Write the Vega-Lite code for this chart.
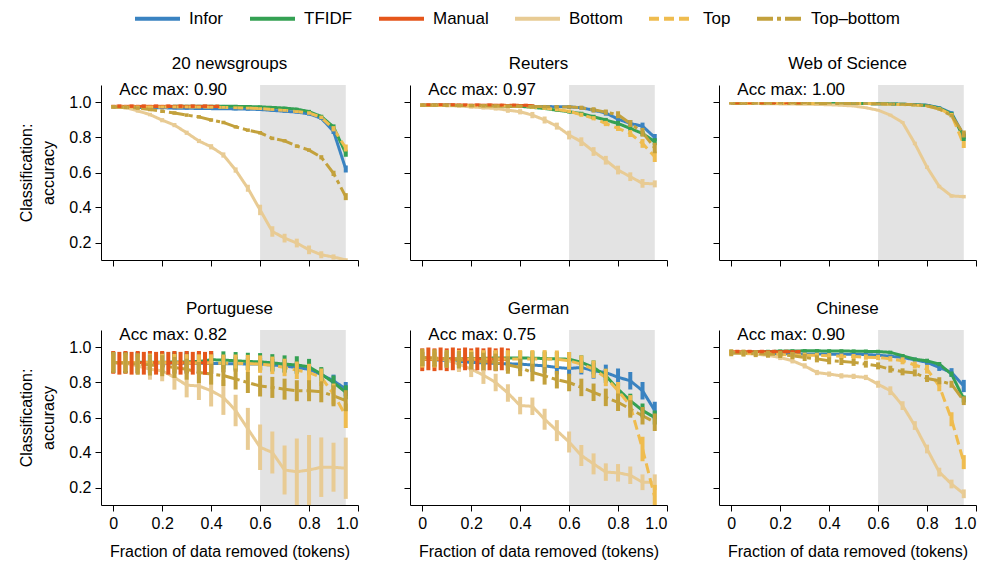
{
"$schema":"https://vega.github.io/schema/vega-lite/v6.json",
"padding":{"left":18,"top":-6,"right":0,"bottom":5},
"datasets":{
"info":[{"d":"ng","label":"Acc max: 0.90"},{"d":"re","label":"Acc max: 0.97"},{"d":"ws","label":"Acc max: 1.00"},{"d":"pt","label":"Acc max: 0.82"},{"d":"de","label":"Acc max: 0.75"},{"d":"zh","label":"Acc max: 0.90"}],
"pts":[
{"d":"ng","m":"Infor","x":0,"y":0.975,"e":0.008},{"d":"ng","m":"Infor","x":0.05,"y":0.973,"e":0.008},{"d":"ng","m":"Infor","x":0.1,"y":0.972,"e":0.008},{"d":"ng","m":"Infor","x":0.15,"y":0.97,"e":0.008},{"d":"ng","m":"Infor","x":0.2,"y":0.97,"e":0.008},{"d":"ng","m":"Infor","x":0.25,"y":0.968,"e":0.008},{"d":"ng","m":"Infor","x":0.3,"y":0.967,"e":0.008},{"d":"ng","m":"Infor","x":0.35,"y":0.966,"e":0.008},{"d":"ng","m":"Infor","x":0.4,"y":0.965,"e":0.008},{"d":"ng","m":"Infor","x":0.45,"y":0.965,"e":0.008},{"d":"ng","m":"Infor","x":0.5,"y":0.963,"e":0.008},{"d":"ng","m":"Infor","x":0.55,"y":0.962,"e":0.008},{"d":"ng","m":"Infor","x":0.6,"y":0.96,"e":0.008},{"d":"ng","m":"Infor","x":0.65,"y":0.955,"e":0.008},{"d":"ng","m":"Infor","x":0.7,"y":0.95,"e":0.008},{"d":"ng","m":"Infor","x":0.75,"y":0.945,"e":0.008},{"d":"ng","m":"Infor","x":0.8,"y":0.935,"e":0.01},{"d":"ng","m":"Infor","x":0.85,"y":0.91,"e":0.01},{"d":"ng","m":"Infor","x":0.9,"y":0.835,"e":0.015},{"d":"ng","m":"Infor","x":0.95,"y":0.62,"e":0.02},
{"d":"ng","m":"TFIDF","x":0,"y":0.975,"e":0.008},{"d":"ng","m":"TFIDF","x":0.05,"y":0.976,"e":0.008},{"d":"ng","m":"TFIDF","x":0.1,"y":0.976,"e":0.008},{"d":"ng","m":"TFIDF","x":0.15,"y":0.977,"e":0.008},{"d":"ng","m":"TFIDF","x":0.2,"y":0.977,"e":0.008},{"d":"ng","m":"TFIDF","x":0.25,"y":0.978,"e":0.008},{"d":"ng","m":"TFIDF","x":0.3,"y":0.978,"e":0.008},{"d":"ng","m":"TFIDF","x":0.35,"y":0.978,"e":0.008},{"d":"ng","m":"TFIDF","x":0.4,"y":0.978,"e":0.008},{"d":"ng","m":"TFIDF","x":0.45,"y":0.978,"e":0.008},{"d":"ng","m":"TFIDF","x":0.5,"y":0.978,"e":0.008},{"d":"ng","m":"TFIDF","x":0.55,"y":0.977,"e":0.008},{"d":"ng","m":"TFIDF","x":0.6,"y":0.975,"e":0.008},{"d":"ng","m":"TFIDF","x":0.65,"y":0.972,"e":0.008},{"d":"ng","m":"TFIDF","x":0.7,"y":0.968,"e":0.008},{"d":"ng","m":"TFIDF","x":0.75,"y":0.962,"e":0.008},{"d":"ng","m":"TFIDF","x":0.8,"y":0.948,"e":0.01},{"d":"ng","m":"TFIDF","x":0.85,"y":0.92,"e":0.01},{"d":"ng","m":"TFIDF","x":0.9,"y":0.86,"e":0.015},{"d":"ng","m":"TFIDF","x":0.95,"y":0.71,"e":0.02},
{"d":"ng","m":"Manual","x":0,"y":0.977,"e":0.01},{"d":"ng","m":"Manual","x":0.025,"y":0.979,"e":0.01},{"d":"ng","m":"Manual","x":0.05,"y":0.977,"e":0.01},{"d":"ng","m":"Manual","x":0.075,"y":0.979,"e":0.01},{"d":"ng","m":"Manual","x":0.1,"y":0.977,"e":0.01},{"d":"ng","m":"Manual","x":0.125,"y":0.979,"e":0.01},{"d":"ng","m":"Manual","x":0.15,"y":0.977,"e":0.01},{"d":"ng","m":"Manual","x":0.175,"y":0.979,"e":0.01},{"d":"ng","m":"Manual","x":0.2,"y":0.977,"e":0.01},{"d":"ng","m":"Manual","x":0.225,"y":0.979,"e":0.01},{"d":"ng","m":"Manual","x":0.25,"y":0.977,"e":0.01},{"d":"ng","m":"Manual","x":0.275,"y":0.979,"e":0.01},{"d":"ng","m":"Manual","x":0.3,"y":0.977,"e":0.01},{"d":"ng","m":"Manual","x":0.325,"y":0.979,"e":0.01},{"d":"ng","m":"Manual","x":0.35,"y":0.977,"e":0.01},{"d":"ng","m":"Manual","x":0.375,"y":0.979,"e":0.01},{"d":"ng","m":"Manual","x":0.4,"y":0.977,"e":0.01},{"d":"ng","m":"Manual","x":0.425,"y":0.978,"e":0.01},
{"d":"ng","m":"Bottom","x":0,"y":0.975,"e":0.008},{"d":"ng","m":"Bottom","x":0.05,"y":0.971,"e":0.01},{"d":"ng","m":"Bottom","x":0.1,"y":0.952,"e":0.01},{"d":"ng","m":"Bottom","x":0.15,"y":0.931,"e":0.01},{"d":"ng","m":"Bottom","x":0.2,"y":0.899,"e":0.012},{"d":"ng","m":"Bottom","x":0.25,"y":0.871,"e":0.012},{"d":"ng","m":"Bottom","x":0.3,"y":0.827,"e":0.012},{"d":"ng","m":"Bottom","x":0.35,"y":0.78,"e":0.012},{"d":"ng","m":"Bottom","x":0.4,"y":0.747,"e":0.015},{"d":"ng","m":"Bottom","x":0.45,"y":0.7,"e":0.015},{"d":"ng","m":"Bottom","x":0.5,"y":0.614,"e":0.015},{"d":"ng","m":"Bottom","x":0.55,"y":0.51,"e":0.02},{"d":"ng","m":"Bottom","x":0.6,"y":0.386,"e":0.03},{"d":"ng","m":"Bottom","x":0.65,"y":0.263,"e":0.03},{"d":"ng","m":"Bottom","x":0.7,"y":0.225,"e":0.025},{"d":"ng","m":"Bottom","x":0.75,"y":0.197,"e":0.025},{"d":"ng","m":"Bottom","x":0.8,"y":0.158,"e":0.025},{"d":"ng","m":"Bottom","x":0.85,"y":0.13,"e":0.02},{"d":"ng","m":"Bottom","x":0.9,"y":0.117,"e":0.015},{"d":"ng","m":"Bottom","x":0.95,"y":0.1,"e":0.01},
{"d":"ng","m":"Top","x":0,"y":0.975,"e":0.008},{"d":"ng","m":"Top","x":0.05,"y":0.975,"e":0.008},{"d":"ng","m":"Top","x":0.1,"y":0.975,"e":0.008},{"d":"ng","m":"Top","x":0.15,"y":0.975,"e":0.008},{"d":"ng","m":"Top","x":0.2,"y":0.975,"e":0.008},{"d":"ng","m":"Top","x":0.25,"y":0.975,"e":0.008},{"d":"ng","m":"Top","x":0.3,"y":0.975,"e":0.008},{"d":"ng","m":"Top","x":0.35,"y":0.974,"e":0.008},{"d":"ng","m":"Top","x":0.4,"y":0.973,"e":0.008},{"d":"ng","m":"Top","x":0.45,"y":0.972,"e":0.008},{"d":"ng","m":"Top","x":0.5,"y":0.97,"e":0.008},{"d":"ng","m":"Top","x":0.55,"y":0.968,"e":0.008},{"d":"ng","m":"Top","x":0.6,"y":0.965,"e":0.008},{"d":"ng","m":"Top","x":0.65,"y":0.96,"e":0.008},{"d":"ng","m":"Top","x":0.7,"y":0.955,"e":0.008},{"d":"ng","m":"Top","x":0.75,"y":0.948,"e":0.008},{"d":"ng","m":"Top","x":0.8,"y":0.94,"e":0.01},{"d":"ng","m":"Top","x":0.85,"y":0.915,"e":0.01},{"d":"ng","m":"Top","x":0.9,"y":0.85,"e":0.015},{"d":"ng","m":"Top","x":0.95,"y":0.74,"e":0.02},
{"d":"ng","m":"Top–bottom","x":0,"y":0.975,"e":0.01},{"d":"ng","m":"Top–bottom","x":0.05,"y":0.972,"e":0.01},{"d":"ng","m":"Top–bottom","x":0.1,"y":0.968,"e":0.01},{"d":"ng","m":"Top–bottom","x":0.15,"y":0.96,"e":0.01},{"d":"ng","m":"Top–bottom","x":0.2,"y":0.95,"e":0.01},{"d":"ng","m":"Top–bottom","x":0.25,"y":0.94,"e":0.01},{"d":"ng","m":"Top–bottom","x":0.3,"y":0.928,"e":0.01},{"d":"ng","m":"Top–bottom","x":0.35,"y":0.918,"e":0.01},{"d":"ng","m":"Top–bottom","x":0.4,"y":0.9,"e":0.01},{"d":"ng","m":"Top–bottom","x":0.45,"y":0.886,"e":0.01},{"d":"ng","m":"Top–bottom","x":0.5,"y":0.861,"e":0.01},{"d":"ng","m":"Top–bottom","x":0.55,"y":0.842,"e":0.01},{"d":"ng","m":"Top–bottom","x":0.6,"y":0.827,"e":0.01},{"d":"ng","m":"Top–bottom","x":0.65,"y":0.795,"e":0.01},{"d":"ng","m":"Top–bottom","x":0.7,"y":0.781,"e":0.01},{"d":"ng","m":"Top–bottom","x":0.75,"y":0.751,"e":0.01},{"d":"ng","m":"Top–bottom","x":0.8,"y":0.728,"e":0.01},{"d":"ng","m":"Top–bottom","x":0.85,"y":0.687,"e":0.012},{"d":"ng","m":"Top–bottom","x":0.9,"y":0.595,"e":0.015},{"d":"ng","m":"Top–bottom","x":0.95,"y":0.462,"e":0.02},

{"d":"re","m":"Infor","x":0,"y":0.985,"e":0.008},{"d":"re","m":"Infor","x":0.05,"y":0.985,"e":0.008},{"d":"re","m":"Infor","x":0.1,"y":0.984,"e":0.008},{"d":"re","m":"Infor","x":0.15,"y":0.983,"e":0.008},{"d":"re","m":"Infor","x":0.2,"y":0.982,"e":0.008},{"d":"re","m":"Infor","x":0.25,"y":0.981,"e":0.008},{"d":"re","m":"Infor","x":0.3,"y":0.98,"e":0.008},{"d":"re","m":"Infor","x":0.35,"y":0.98,"e":0.008},{"d":"re","m":"Infor","x":0.4,"y":0.979,"e":0.008},{"d":"re","m":"Infor","x":0.45,"y":0.978,"e":0.008},{"d":"re","m":"Infor","x":0.5,"y":0.977,"e":0.008},{"d":"re","m":"Infor","x":0.55,"y":0.976,"e":0.008},{"d":"re","m":"Infor","x":0.6,"y":0.975,"e":0.01},{"d":"re","m":"Infor","x":0.65,"y":0.97,"e":0.01},{"d":"re","m":"Infor","x":0.7,"y":0.956,"e":0.012},{"d":"re","m":"Infor","x":0.75,"y":0.94,"e":0.015},{"d":"re","m":"Infor","x":0.8,"y":0.905,"e":0.02},{"d":"re","m":"Infor","x":0.85,"y":0.88,"e":0.02},{"d":"re","m":"Infor","x":0.9,"y":0.865,"e":0.02},{"d":"re","m":"Infor","x":0.95,"y":0.8,"e":0.02},
{"d":"re","m":"TFIDF","x":0,"y":0.985,"e":0.008},{"d":"re","m":"TFIDF","x":0.05,"y":0.985,"e":0.008},{"d":"re","m":"TFIDF","x":0.1,"y":0.984,"e":0.008},{"d":"re","m":"TFIDF","x":0.15,"y":0.983,"e":0.008},{"d":"re","m":"TFIDF","x":0.2,"y":0.982,"e":0.008},{"d":"re","m":"TFIDF","x":0.25,"y":0.981,"e":0.008},{"d":"re","m":"TFIDF","x":0.3,"y":0.98,"e":0.008},{"d":"re","m":"TFIDF","x":0.35,"y":0.979,"e":0.008},{"d":"re","m":"TFIDF","x":0.4,"y":0.978,"e":0.008},{"d":"re","m":"TFIDF","x":0.45,"y":0.972,"e":0.008},{"d":"re","m":"TFIDF","x":0.5,"y":0.966,"e":0.008},{"d":"re","m":"TFIDF","x":0.55,"y":0.956,"e":0.008},{"d":"re","m":"TFIDF","x":0.6,"y":0.947,"e":0.01},{"d":"re","m":"TFIDF","x":0.65,"y":0.937,"e":0.01},{"d":"re","m":"TFIDF","x":0.7,"y":0.918,"e":0.012},{"d":"re","m":"TFIDF","x":0.75,"y":0.9,"e":0.012},{"d":"re","m":"TFIDF","x":0.8,"y":0.88,"e":0.015},{"d":"re","m":"TFIDF","x":0.85,"y":0.852,"e":0.015},{"d":"re","m":"TFIDF","x":0.9,"y":0.823,"e":0.015},{"d":"re","m":"TFIDF","x":0.95,"y":0.776,"e":0.02},
{"d":"re","m":"Manual","x":0,"y":0.985,"e":0.008},{"d":"re","m":"Manual","x":0.025,"y":0.987,"e":0.008},{"d":"re","m":"Manual","x":0.05,"y":0.985,"e":0.008},{"d":"re","m":"Manual","x":0.075,"y":0.987,"e":0.008},{"d":"re","m":"Manual","x":0.1,"y":0.985,"e":0.008},{"d":"re","m":"Manual","x":0.125,"y":0.987,"e":0.008},{"d":"re","m":"Manual","x":0.15,"y":0.985,"e":0.008},{"d":"re","m":"Manual","x":0.175,"y":0.986,"e":0.008},{"d":"re","m":"Manual","x":0.2,"y":0.984,"e":0.008},{"d":"re","m":"Manual","x":0.225,"y":0.986,"e":0.008},{"d":"re","m":"Manual","x":0.25,"y":0.984,"e":0.008},{"d":"re","m":"Manual","x":0.275,"y":0.986,"e":0.008},{"d":"re","m":"Manual","x":0.3,"y":0.984,"e":0.008},{"d":"re","m":"Manual","x":0.325,"y":0.985,"e":0.008},{"d":"re","m":"Manual","x":0.35,"y":0.983,"e":0.008},{"d":"re","m":"Manual","x":0.375,"y":0.985,"e":0.008},{"d":"re","m":"Manual","x":0.4,"y":0.983,"e":0.008},{"d":"re","m":"Manual","x":0.425,"y":0.984,"e":0.008},{"d":"re","m":"Manual","x":0.45,"y":0.982,"e":0.008},
{"d":"re","m":"Bottom","x":0,"y":0.985,"e":0.008},{"d":"re","m":"Bottom","x":0.05,"y":0.984,"e":0.008},{"d":"re","m":"Bottom","x":0.1,"y":0.982,"e":0.008},{"d":"re","m":"Bottom","x":0.15,"y":0.98,"e":0.008},{"d":"re","m":"Bottom","x":0.2,"y":0.975,"e":0.01},{"d":"re","m":"Bottom","x":0.25,"y":0.97,"e":0.01},{"d":"re","m":"Bottom","x":0.3,"y":0.966,"e":0.012},{"d":"re","m":"Bottom","x":0.35,"y":0.956,"e":0.015},{"d":"re","m":"Bottom","x":0.4,"y":0.947,"e":0.015},{"d":"re","m":"Bottom","x":0.45,"y":0.928,"e":0.018},{"d":"re","m":"Bottom","x":0.5,"y":0.9,"e":0.02},{"d":"re","m":"Bottom","x":0.55,"y":0.865,"e":0.02},{"d":"re","m":"Bottom","x":0.6,"y":0.814,"e":0.025},{"d":"re","m":"Bottom","x":0.65,"y":0.776,"e":0.025},{"d":"re","m":"Bottom","x":0.7,"y":0.72,"e":0.025},{"d":"re","m":"Bottom","x":0.75,"y":0.67,"e":0.025},{"d":"re","m":"Bottom","x":0.8,"y":0.614,"e":0.025},{"d":"re","m":"Bottom","x":0.85,"y":0.576,"e":0.025},{"d":"re","m":"Bottom","x":0.9,"y":0.538,"e":0.025},{"d":"re","m":"Bottom","x":0.95,"y":0.535,"e":0.02},
{"d":"re","m":"Top","x":0,"y":0.985,"e":0.008},{"d":"re","m":"Top","x":0.05,"y":0.985,"e":0.008},{"d":"re","m":"Top","x":0.1,"y":0.984,"e":0.008},{"d":"re","m":"Top","x":0.15,"y":0.983,"e":0.008},{"d":"re","m":"Top","x":0.2,"y":0.982,"e":0.008},{"d":"re","m":"Top","x":0.25,"y":0.981,"e":0.008},{"d":"re","m":"Top","x":0.3,"y":0.98,"e":0.008},{"d":"re","m":"Top","x":0.35,"y":0.979,"e":0.008},{"d":"re","m":"Top","x":0.4,"y":0.978,"e":0.008},{"d":"re","m":"Top","x":0.45,"y":0.974,"e":0.01},{"d":"re","m":"Top","x":0.5,"y":0.968,"e":0.01},{"d":"re","m":"Top","x":0.55,"y":0.96,"e":0.01},{"d":"re","m":"Top","x":0.6,"y":0.95,"e":0.01},{"d":"re","m":"Top","x":0.65,"y":0.93,"e":0.012},{"d":"re","m":"Top","x":0.7,"y":0.91,"e":0.012},{"d":"re","m":"Top","x":0.75,"y":0.88,"e":0.015},{"d":"re","m":"Top","x":0.8,"y":0.852,"e":0.015},{"d":"re","m":"Top","x":0.85,"y":0.823,"e":0.02},{"d":"re","m":"Top","x":0.9,"y":0.766,"e":0.025},{"d":"re","m":"Top","x":0.95,"y":0.69,"e":0.03},
{"d":"re","m":"Top–bottom","x":0,"y":0.985,"e":0.01},{"d":"re","m":"Top–bottom","x":0.05,"y":0.985,"e":0.01},{"d":"re","m":"Top–bottom","x":0.1,"y":0.984,"e":0.01},{"d":"re","m":"Top–bottom","x":0.15,"y":0.983,"e":0.01},{"d":"re","m":"Top–bottom","x":0.2,"y":0.982,"e":0.01},{"d":"re","m":"Top–bottom","x":0.25,"y":0.981,"e":0.01},{"d":"re","m":"Top–bottom","x":0.3,"y":0.98,"e":0.01},{"d":"re","m":"Top–bottom","x":0.35,"y":0.979,"e":0.01},{"d":"re","m":"Top–bottom","x":0.4,"y":0.978,"e":0.01},{"d":"re","m":"Top–bottom","x":0.45,"y":0.977,"e":0.01},{"d":"re","m":"Top–bottom","x":0.5,"y":0.976,"e":0.01},{"d":"re","m":"Top–bottom","x":0.55,"y":0.975,"e":0.01},{"d":"re","m":"Top–bottom","x":0.6,"y":0.975,"e":0.01},{"d":"re","m":"Top–bottom","x":0.65,"y":0.97,"e":0.012},{"d":"re","m":"Top–bottom","x":0.7,"y":0.958,"e":0.015},{"d":"re","m":"Top–bottom","x":0.75,"y":0.945,"e":0.015},{"d":"re","m":"Top–bottom","x":0.8,"y":0.93,"e":0.02},{"d":"re","m":"Top–bottom","x":0.85,"y":0.88,"e":0.02},{"d":"re","m":"Top–bottom","x":0.9,"y":0.83,"e":0.025},{"d":"re","m":"Top–bottom","x":0.95,"y":0.74,"e":0.03},

{"d":"ws","m":"Infor","x":0,"y":0.995,"e":0.005},{"d":"ws","m":"Infor","x":0.05,"y":0.995,"e":0.005},{"d":"ws","m":"Infor","x":0.1,"y":0.995,"e":0.005},{"d":"ws","m":"Infor","x":0.15,"y":0.995,"e":0.005},{"d":"ws","m":"Infor","x":0.2,"y":0.995,"e":0.005},{"d":"ws","m":"Infor","x":0.25,"y":0.995,"e":0.005},{"d":"ws","m":"Infor","x":0.3,"y":0.995,"e":0.005},{"d":"ws","m":"Infor","x":0.35,"y":0.995,"e":0.005},{"d":"ws","m":"Infor","x":0.4,"y":0.995,"e":0.005},{"d":"ws","m":"Infor","x":0.45,"y":0.995,"e":0.005},{"d":"ws","m":"Infor","x":0.5,"y":0.995,"e":0.005},{"d":"ws","m":"Infor","x":0.55,"y":0.994,"e":0.005},{"d":"ws","m":"Infor","x":0.6,"y":0.993,"e":0.005},{"d":"ws","m":"Infor","x":0.65,"y":0.992,"e":0.005},{"d":"ws","m":"Infor","x":0.7,"y":0.99,"e":0.005},{"d":"ws","m":"Infor","x":0.75,"y":0.988,"e":0.005},{"d":"ws","m":"Infor","x":0.8,"y":0.985,"e":0.006},{"d":"ws","m":"Infor","x":0.85,"y":0.97,"e":0.008},{"d":"ws","m":"Infor","x":0.9,"y":0.94,"e":0.01},{"d":"ws","m":"Infor","x":0.95,"y":0.81,"e":0.02},
{"d":"ws","m":"TFIDF","x":0,"y":0.995,"e":0.005},{"d":"ws","m":"TFIDF","x":0.05,"y":0.995,"e":0.005},{"d":"ws","m":"TFIDF","x":0.1,"y":0.995,"e":0.005},{"d":"ws","m":"TFIDF","x":0.15,"y":0.995,"e":0.005},{"d":"ws","m":"TFIDF","x":0.2,"y":0.995,"e":0.005},{"d":"ws","m":"TFIDF","x":0.25,"y":0.995,"e":0.005},{"d":"ws","m":"TFIDF","x":0.3,"y":0.995,"e":0.005},{"d":"ws","m":"TFIDF","x":0.35,"y":0.995,"e":0.005},{"d":"ws","m":"TFIDF","x":0.4,"y":0.995,"e":0.005},{"d":"ws","m":"TFIDF","x":0.45,"y":0.995,"e":0.005},{"d":"ws","m":"TFIDF","x":0.5,"y":0.995,"e":0.005},{"d":"ws","m":"TFIDF","x":0.55,"y":0.994,"e":0.005},{"d":"ws","m":"TFIDF","x":0.6,"y":0.993,"e":0.005},{"d":"ws","m":"TFIDF","x":0.65,"y":0.992,"e":0.005},{"d":"ws","m":"TFIDF","x":0.7,"y":0.99,"e":0.005},{"d":"ws","m":"TFIDF","x":0.75,"y":0.987,"e":0.005},{"d":"ws","m":"TFIDF","x":0.8,"y":0.983,"e":0.006},{"d":"ws","m":"TFIDF","x":0.85,"y":0.968,"e":0.008},{"d":"ws","m":"TFIDF","x":0.9,"y":0.935,"e":0.01},{"d":"ws","m":"TFIDF","x":0.95,"y":0.8,"e":0.02},
{"d":"ws","m":"Manual","x":0,"y":0.995,"e":0.005},{"d":"ws","m":"Manual","x":0.025,"y":0.995,"e":0.005},{"d":"ws","m":"Manual","x":0.05,"y":0.995,"e":0.005},{"d":"ws","m":"Manual","x":0.075,"y":0.995,"e":0.005},{"d":"ws","m":"Manual","x":0.1,"y":0.995,"e":0.005},{"d":"ws","m":"Manual","x":0.125,"y":0.995,"e":0.005},{"d":"ws","m":"Manual","x":0.15,"y":0.995,"e":0.005},{"d":"ws","m":"Manual","x":0.175,"y":0.995,"e":0.005},{"d":"ws","m":"Manual","x":0.2,"y":0.995,"e":0.005},{"d":"ws","m":"Manual","x":0.225,"y":0.995,"e":0.005},{"d":"ws","m":"Manual","x":0.25,"y":0.995,"e":0.005},{"d":"ws","m":"Manual","x":0.275,"y":0.995,"e":0.005},{"d":"ws","m":"Manual","x":0.3,"y":0.995,"e":0.005},
{"d":"ws","m":"Bottom","x":0,"y":0.995,"e":0.005},{"d":"ws","m":"Bottom","x":0.05,"y":0.995,"e":0.005},{"d":"ws","m":"Bottom","x":0.1,"y":0.994,"e":0.005},{"d":"ws","m":"Bottom","x":0.15,"y":0.993,"e":0.005},{"d":"ws","m":"Bottom","x":0.2,"y":0.992,"e":0.005},{"d":"ws","m":"Bottom","x":0.25,"y":0.991,"e":0.005},{"d":"ws","m":"Bottom","x":0.3,"y":0.99,"e":0.005},{"d":"ws","m":"Bottom","x":0.35,"y":0.989,"e":0.005},{"d":"ws","m":"Bottom","x":0.4,"y":0.987,"e":0.005},{"d":"ws","m":"Bottom","x":0.45,"y":0.984,"e":0.005},{"d":"ws","m":"Bottom","x":0.5,"y":0.98,"e":0.005},{"d":"ws","m":"Bottom","x":0.55,"y":0.97,"e":0.006},{"d":"ws","m":"Bottom","x":0.6,"y":0.956,"e":0.006},{"d":"ws","m":"Bottom","x":0.65,"y":0.928,"e":0.008},{"d":"ws","m":"Bottom","x":0.7,"y":0.886,"e":0.008},{"d":"ws","m":"Bottom","x":0.75,"y":0.766,"e":0.01},{"d":"ws","m":"Bottom","x":0.8,"y":0.63,"e":0.01},{"d":"ws","m":"Bottom","x":0.85,"y":0.52,"e":0.01},{"d":"ws","m":"Bottom","x":0.9,"y":0.466,"e":0.01},{"d":"ws","m":"Bottom","x":0.95,"y":0.462,"e":0.01},
{"d":"ws","m":"Top","x":0,"y":0.995,"e":0.005},{"d":"ws","m":"Top","x":0.05,"y":0.995,"e":0.005},{"d":"ws","m":"Top","x":0.1,"y":0.995,"e":0.005},{"d":"ws","m":"Top","x":0.15,"y":0.995,"e":0.005},{"d":"ws","m":"Top","x":0.2,"y":0.995,"e":0.005},{"d":"ws","m":"Top","x":0.25,"y":0.995,"e":0.005},{"d":"ws","m":"Top","x":0.3,"y":0.995,"e":0.005},{"d":"ws","m":"Top","x":0.35,"y":0.995,"e":0.005},{"d":"ws","m":"Top","x":0.4,"y":0.995,"e":0.005},{"d":"ws","m":"Top","x":0.45,"y":0.995,"e":0.005},{"d":"ws","m":"Top","x":0.5,"y":0.995,"e":0.005},{"d":"ws","m":"Top","x":0.55,"y":0.994,"e":0.005},{"d":"ws","m":"Top","x":0.6,"y":0.992,"e":0.005},{"d":"ws","m":"Top","x":0.65,"y":0.99,"e":0.005},{"d":"ws","m":"Top","x":0.7,"y":0.988,"e":0.005},{"d":"ws","m":"Top","x":0.75,"y":0.985,"e":0.005},{"d":"ws","m":"Top","x":0.8,"y":0.98,"e":0.006},{"d":"ws","m":"Top","x":0.85,"y":0.965,"e":0.008},{"d":"ws","m":"Top","x":0.9,"y":0.93,"e":0.01},{"d":"ws","m":"Top","x":0.95,"y":0.76,"e":0.02},
{"d":"ws","m":"Top–bottom","x":0,"y":0.995,"e":0.005},{"d":"ws","m":"Top–bottom","x":0.05,"y":0.995,"e":0.005},{"d":"ws","m":"Top–bottom","x":0.1,"y":0.995,"e":0.005},{"d":"ws","m":"Top–bottom","x":0.15,"y":0.995,"e":0.005},{"d":"ws","m":"Top–bottom","x":0.2,"y":0.995,"e":0.005},{"d":"ws","m":"Top–bottom","x":0.25,"y":0.995,"e":0.005},{"d":"ws","m":"Top–bottom","x":0.3,"y":0.995,"e":0.005},{"d":"ws","m":"Top–bottom","x":0.35,"y":0.995,"e":0.005},{"d":"ws","m":"Top–bottom","x":0.4,"y":0.995,"e":0.005},{"d":"ws","m":"Top–bottom","x":0.45,"y":0.995,"e":0.005},{"d":"ws","m":"Top–bottom","x":0.5,"y":0.995,"e":0.005},{"d":"ws","m":"Top–bottom","x":0.55,"y":0.994,"e":0.005},{"d":"ws","m":"Top–bottom","x":0.6,"y":0.993,"e":0.005},{"d":"ws","m":"Top–bottom","x":0.65,"y":0.991,"e":0.005},{"d":"ws","m":"Top–bottom","x":0.7,"y":0.99,"e":0.005},{"d":"ws","m":"Top–bottom","x":0.75,"y":0.987,"e":0.005},{"d":"ws","m":"Top–bottom","x":0.8,"y":0.982,"e":0.006},{"d":"ws","m":"Top–bottom","x":0.85,"y":0.962,"e":0.008},{"d":"ws","m":"Top–bottom","x":0.9,"y":0.925,"e":0.01},{"d":"ws","m":"Top–bottom","x":0.95,"y":0.82,"e":0.02},

{"d":"pt","m":"Infor","x":0,"y":0.915,"e":0.06},{"d":"pt","m":"Infor","x":0.05,"y":0.915,"e":0.06},{"d":"pt","m":"Infor","x":0.1,"y":0.914,"e":0.06},{"d":"pt","m":"Infor","x":0.15,"y":0.913,"e":0.06},{"d":"pt","m":"Infor","x":0.2,"y":0.912,"e":0.06},{"d":"pt","m":"Infor","x":0.25,"y":0.911,"e":0.06},{"d":"pt","m":"Infor","x":0.3,"y":0.91,"e":0.06},{"d":"pt","m":"Infor","x":0.35,"y":0.91,"e":0.06},{"d":"pt","m":"Infor","x":0.4,"y":0.909,"e":0.06},{"d":"pt","m":"Infor","x":0.45,"y":0.908,"e":0.05},{"d":"pt","m":"Infor","x":0.5,"y":0.907,"e":0.04},{"d":"pt","m":"Infor","x":0.55,"y":0.906,"e":0.035},{"d":"pt","m":"Infor","x":0.6,"y":0.905,"e":0.035},{"d":"pt","m":"Infor","x":0.65,"y":0.9,"e":0.035},{"d":"pt","m":"Infor","x":0.7,"y":0.895,"e":0.035},{"d":"pt","m":"Infor","x":0.75,"y":0.885,"e":0.035},{"d":"pt","m":"Infor","x":0.8,"y":0.876,"e":0.035},{"d":"pt","m":"Infor","x":0.85,"y":0.845,"e":0.035},{"d":"pt","m":"Infor","x":0.9,"y":0.81,"e":0.035},{"d":"pt","m":"Infor","x":0.95,"y":0.763,"e":0.04},
{"d":"pt","m":"TFIDF","x":0,"y":0.915,"e":0.06},{"d":"pt","m":"TFIDF","x":0.05,"y":0.915,"e":0.06},{"d":"pt","m":"TFIDF","x":0.1,"y":0.915,"e":0.06},{"d":"pt","m":"TFIDF","x":0.15,"y":0.916,"e":0.06},{"d":"pt","m":"TFIDF","x":0.2,"y":0.916,"e":0.06},{"d":"pt","m":"TFIDF","x":0.25,"y":0.917,"e":0.06},{"d":"pt","m":"TFIDF","x":0.3,"y":0.918,"e":0.06},{"d":"pt","m":"TFIDF","x":0.35,"y":0.92,"e":0.055},{"d":"pt","m":"TFIDF","x":0.4,"y":0.93,"e":0.05},{"d":"pt","m":"TFIDF","x":0.45,"y":0.928,"e":0.05},{"d":"pt","m":"TFIDF","x":0.5,"y":0.924,"e":0.05},{"d":"pt","m":"TFIDF","x":0.55,"y":0.92,"e":0.05},{"d":"pt","m":"TFIDF","x":0.6,"y":0.918,"e":0.05},{"d":"pt","m":"TFIDF","x":0.65,"y":0.912,"e":0.05},{"d":"pt","m":"TFIDF","x":0.7,"y":0.905,"e":0.05},{"d":"pt","m":"TFIDF","x":0.75,"y":0.9,"e":0.05},{"d":"pt","m":"TFIDF","x":0.8,"y":0.89,"e":0.045},{"d":"pt","m":"TFIDF","x":0.85,"y":0.848,"e":0.04},{"d":"pt","m":"TFIDF","x":0.9,"y":0.8,"e":0.04},{"d":"pt","m":"TFIDF","x":0.95,"y":0.744,"e":0.04},
{"d":"pt","m":"Manual","x":0,"y":0.915,"e":0.065},{"d":"pt","m":"Manual","x":0.025,"y":0.91,"e":0.065},{"d":"pt","m":"Manual","x":0.05,"y":0.915,"e":0.065},{"d":"pt","m":"Manual","x":0.075,"y":0.91,"e":0.065},{"d":"pt","m":"Manual","x":0.1,"y":0.915,"e":0.065},{"d":"pt","m":"Manual","x":0.125,"y":0.91,"e":0.065},{"d":"pt","m":"Manual","x":0.15,"y":0.915,"e":0.065},{"d":"pt","m":"Manual","x":0.175,"y":0.91,"e":0.065},{"d":"pt","m":"Manual","x":0.2,"y":0.915,"e":0.065},{"d":"pt","m":"Manual","x":0.225,"y":0.91,"e":0.065},{"d":"pt","m":"Manual","x":0.25,"y":0.915,"e":0.065},{"d":"pt","m":"Manual","x":0.275,"y":0.91,"e":0.065},{"d":"pt","m":"Manual","x":0.3,"y":0.915,"e":0.065},{"d":"pt","m":"Manual","x":0.325,"y":0.91,"e":0.065},{"d":"pt","m":"Manual","x":0.35,"y":0.915,"e":0.065},{"d":"pt","m":"Manual","x":0.375,"y":0.91,"e":0.065},{"d":"pt","m":"Manual","x":0.4,"y":0.915,"e":0.065},
{"d":"pt","m":"Bottom","x":0,"y":0.915,"e":0.04},{"d":"pt","m":"Bottom","x":0.05,"y":0.91,"e":0.045},{"d":"pt","m":"Bottom","x":0.1,"y":0.895,"e":0.05},{"d":"pt","m":"Bottom","x":0.15,"y":0.876,"e":0.06},{"d":"pt","m":"Bottom","x":0.2,"y":0.867,"e":0.06},{"d":"pt","m":"Bottom","x":0.25,"y":0.829,"e":0.07},{"d":"pt","m":"Bottom","x":0.3,"y":0.785,"e":0.07},{"d":"pt","m":"Bottom","x":0.35,"y":0.78,"e":0.08},{"d":"pt","m":"Bottom","x":0.4,"y":0.753,"e":0.09},{"d":"pt","m":"Bottom","x":0.45,"y":0.715,"e":0.1},{"d":"pt","m":"Bottom","x":0.5,"y":0.64,"e":0.09},{"d":"pt","m":"Bottom","x":0.55,"y":0.535,"e":0.12},{"d":"pt","m":"Bottom","x":0.6,"y":0.43,"e":0.13},{"d":"pt","m":"Bottom","x":0.65,"y":0.4,"e":0.12},{"d":"pt","m":"Bottom","x":0.7,"y":0.3,"e":0.14},{"d":"pt","m":"Bottom","x":0.75,"y":0.29,"e":0.19},{"d":"pt","m":"Bottom","x":0.8,"y":0.3,"e":0.2},{"d":"pt","m":"Bottom","x":0.85,"y":0.316,"e":0.17},{"d":"pt","m":"Bottom","x":0.9,"y":0.316,"e":0.14},{"d":"pt","m":"Bottom","x":0.95,"y":0.31,"e":0.175},
{"d":"pt","m":"Top","x":0,"y":0.915,"e":0.05},{"d":"pt","m":"Top","x":0.05,"y":0.915,"e":0.05},{"d":"pt","m":"Top","x":0.1,"y":0.915,"e":0.05},{"d":"pt","m":"Top","x":0.15,"y":0.915,"e":0.05},{"d":"pt","m":"Top","x":0.2,"y":0.914,"e":0.05},{"d":"pt","m":"Top","x":0.25,"y":0.913,"e":0.05},{"d":"pt","m":"Top","x":0.3,"y":0.912,"e":0.05},{"d":"pt","m":"Top","x":0.35,"y":0.911,"e":0.05},{"d":"pt","m":"Top","x":0.4,"y":0.911,"e":0.05},{"d":"pt","m":"Top","x":0.45,"y":0.91,"e":0.05},{"d":"pt","m":"Top","x":0.5,"y":0.91,"e":0.05},{"d":"pt","m":"Top","x":0.55,"y":0.908,"e":0.05},{"d":"pt","m":"Top","x":0.6,"y":0.905,"e":0.05},{"d":"pt","m":"Top","x":0.65,"y":0.898,"e":0.05},{"d":"pt","m":"Top","x":0.7,"y":0.886,"e":0.05},{"d":"pt","m":"Top","x":0.75,"y":0.87,"e":0.05},{"d":"pt","m":"Top","x":0.8,"y":0.857,"e":0.05},{"d":"pt","m":"Top","x":0.85,"y":0.83,"e":0.05},{"d":"pt","m":"Top","x":0.9,"y":0.734,"e":0.06},{"d":"pt","m":"Top","x":0.95,"y":0.61,"e":0.07},
{"d":"pt","m":"Top–bottom","x":0,"y":0.915,"e":0.06},{"d":"pt","m":"Top–bottom","x":0.05,"y":0.912,"e":0.06},{"d":"pt","m":"Top–bottom","x":0.1,"y":0.905,"e":0.06},{"d":"pt","m":"Top–bottom","x":0.15,"y":0.9,"e":0.06},{"d":"pt","m":"Top–bottom","x":0.2,"y":0.896,"e":0.06},{"d":"pt","m":"Top–bottom","x":0.25,"y":0.886,"e":0.06},{"d":"pt","m":"Top–bottom","x":0.3,"y":0.876,"e":0.06},{"d":"pt","m":"Top–bottom","x":0.35,"y":0.857,"e":0.06},{"d":"pt","m":"Top–bottom","x":0.4,"y":0.848,"e":0.06},{"d":"pt","m":"Top–bottom","x":0.45,"y":0.84,"e":0.06},{"d":"pt","m":"Top–bottom","x":0.5,"y":0.82,"e":0.06},{"d":"pt","m":"Top–bottom","x":0.55,"y":0.8,"e":0.06},{"d":"pt","m":"Top–bottom","x":0.6,"y":0.78,"e":0.06},{"d":"pt","m":"Top–bottom","x":0.65,"y":0.772,"e":0.06},{"d":"pt","m":"Top–bottom","x":0.7,"y":0.762,"e":0.06},{"d":"pt","m":"Top–bottom","x":0.75,"y":0.753,"e":0.06},{"d":"pt","m":"Top–bottom","x":0.8,"y":0.753,"e":0.06},{"d":"pt","m":"Top–bottom","x":0.85,"y":0.747,"e":0.06},{"d":"pt","m":"Top–bottom","x":0.9,"y":0.724,"e":0.06},{"d":"pt","m":"Top–bottom","x":0.95,"y":0.696,"e":0.06},

{"d":"de","m":"Infor","x":0,"y":0.933,"e":0.04},{"d":"de","m":"Infor","x":0.05,"y":0.93,"e":0.04},{"d":"de","m":"Infor","x":0.1,"y":0.925,"e":0.04},{"d":"de","m":"Infor","x":0.15,"y":0.92,"e":0.04},{"d":"de","m":"Infor","x":0.2,"y":0.915,"e":0.04},{"d":"de","m":"Infor","x":0.25,"y":0.912,"e":0.04},{"d":"de","m":"Infor","x":0.3,"y":0.909,"e":0.04},{"d":"de","m":"Infor","x":0.35,"y":0.907,"e":0.04},{"d":"de","m":"Infor","x":0.4,"y":0.905,"e":0.04},{"d":"de","m":"Infor","x":0.45,"y":0.9,"e":0.04},{"d":"de","m":"Infor","x":0.5,"y":0.895,"e":0.04},{"d":"de","m":"Infor","x":0.55,"y":0.886,"e":0.04},{"d":"de","m":"Infor","x":0.6,"y":0.88,"e":0.04},{"d":"de","m":"Infor","x":0.65,"y":0.886,"e":0.04},{"d":"de","m":"Infor","x":0.7,"y":0.867,"e":0.045},{"d":"de","m":"Infor","x":0.75,"y":0.857,"e":0.045},{"d":"de","m":"Infor","x":0.8,"y":0.83,"e":0.05},{"d":"de","m":"Infor","x":0.85,"y":0.81,"e":0.05},{"d":"de","m":"Infor","x":0.9,"y":0.753,"e":0.05},{"d":"de","m":"Infor","x":0.95,"y":0.64,"e":0.05},
{"d":"de","m":"TFIDF","x":0,"y":0.935,"e":0.04},{"d":"de","m":"TFIDF","x":0.05,"y":0.935,"e":0.04},{"d":"de","m":"TFIDF","x":0.1,"y":0.935,"e":0.04},{"d":"de","m":"TFIDF","x":0.15,"y":0.936,"e":0.04},{"d":"de","m":"TFIDF","x":0.2,"y":0.937,"e":0.04},{"d":"de","m":"TFIDF","x":0.25,"y":0.938,"e":0.04},{"d":"de","m":"TFIDF","x":0.3,"y":0.94,"e":0.04},{"d":"de","m":"TFIDF","x":0.35,"y":0.94,"e":0.04},{"d":"de","m":"TFIDF","x":0.4,"y":0.94,"e":0.04},{"d":"de","m":"TFIDF","x":0.45,"y":0.939,"e":0.04},{"d":"de","m":"TFIDF","x":0.5,"y":0.937,"e":0.04},{"d":"de","m":"TFIDF","x":0.55,"y":0.935,"e":0.04},{"d":"de","m":"TFIDF","x":0.6,"y":0.933,"e":0.04},{"d":"de","m":"TFIDF","x":0.65,"y":0.915,"e":0.04},{"d":"de","m":"TFIDF","x":0.7,"y":0.886,"e":0.04},{"d":"de","m":"TFIDF","x":0.75,"y":0.838,"e":0.04},{"d":"de","m":"TFIDF","x":0.8,"y":0.762,"e":0.04},{"d":"de","m":"TFIDF","x":0.85,"y":0.696,"e":0.04},{"d":"de","m":"TFIDF","x":0.9,"y":0.64,"e":0.04},{"d":"de","m":"TFIDF","x":0.95,"y":0.6,"e":0.04},
{"d":"de","m":"Manual","x":0,"y":0.93,"e":0.065},{"d":"de","m":"Manual","x":0.025,"y":0.935,"e":0.065},{"d":"de","m":"Manual","x":0.05,"y":0.93,"e":0.065},{"d":"de","m":"Manual","x":0.075,"y":0.935,"e":0.065},{"d":"de","m":"Manual","x":0.1,"y":0.93,"e":0.065},{"d":"de","m":"Manual","x":0.125,"y":0.935,"e":0.065},{"d":"de","m":"Manual","x":0.15,"y":0.93,"e":0.065},{"d":"de","m":"Manual","x":0.175,"y":0.935,"e":0.065},{"d":"de","m":"Manual","x":0.2,"y":0.93,"e":0.065},{"d":"de","m":"Manual","x":0.225,"y":0.935,"e":0.065},{"d":"de","m":"Manual","x":0.25,"y":0.93,"e":0.065},{"d":"de","m":"Manual","x":0.275,"y":0.935,"e":0.065},{"d":"de","m":"Manual","x":0.3,"y":0.93,"e":0.065},{"d":"de","m":"Manual","x":0.325,"y":0.935,"e":0.065},{"d":"de","m":"Manual","x":0.35,"y":0.93,"e":0.065},
{"d":"de","m":"Bottom","x":0,"y":0.943,"e":0.04},{"d":"de","m":"Bottom","x":0.05,"y":0.94,"e":0.04},{"d":"de","m":"Bottom","x":0.1,"y":0.93,"e":0.04},{"d":"de","m":"Bottom","x":0.15,"y":0.905,"e":0.045},{"d":"de","m":"Bottom","x":0.2,"y":0.876,"e":0.045},{"d":"de","m":"Bottom","x":0.25,"y":0.842,"e":0.05},{"d":"de","m":"Bottom","x":0.3,"y":0.8,"e":0.05},{"d":"de","m":"Bottom","x":0.35,"y":0.74,"e":0.05},{"d":"de","m":"Bottom","x":0.4,"y":0.668,"e":0.05},{"d":"de","m":"Bottom","x":0.45,"y":0.664,"e":0.05},{"d":"de","m":"Bottom","x":0.5,"y":0.59,"e":0.06},{"d":"de","m":"Bottom","x":0.55,"y":0.525,"e":0.06},{"d":"de","m":"Bottom","x":0.6,"y":0.46,"e":0.06},{"d":"de","m":"Bottom","x":0.65,"y":0.383,"e":0.06},{"d":"de","m":"Bottom","x":0.7,"y":0.335,"e":0.06},{"d":"de","m":"Bottom","x":0.75,"y":0.288,"e":0.05},{"d":"de","m":"Bottom","x":0.8,"y":0.284,"e":0.05},{"d":"de","m":"Bottom","x":0.85,"y":0.27,"e":0.05},{"d":"de","m":"Bottom","x":0.9,"y":0.23,"e":0.045},{"d":"de","m":"Bottom","x":0.95,"y":0.23,"e":0.045},
{"d":"de","m":"Top","x":0,"y":0.935,"e":0.05},{"d":"de","m":"Top","x":0.05,"y":0.935,"e":0.05},{"d":"de","m":"Top","x":0.1,"y":0.935,"e":0.05},{"d":"de","m":"Top","x":0.15,"y":0.935,"e":0.05},{"d":"de","m":"Top","x":0.2,"y":0.935,"e":0.05},{"d":"de","m":"Top","x":0.25,"y":0.935,"e":0.05},{"d":"de","m":"Top","x":0.3,"y":0.935,"e":0.05},{"d":"de","m":"Top","x":0.35,"y":0.935,"e":0.05},{"d":"de","m":"Top","x":0.4,"y":0.935,"e":0.05},{"d":"de","m":"Top","x":0.45,"y":0.935,"e":0.05},{"d":"de","m":"Top","x":0.5,"y":0.935,"e":0.05},{"d":"de","m":"Top","x":0.55,"y":0.933,"e":0.05},{"d":"de","m":"Top","x":0.6,"y":0.924,"e":0.05},{"d":"de","m":"Top","x":0.65,"y":0.905,"e":0.05},{"d":"de","m":"Top","x":0.7,"y":0.876,"e":0.05},{"d":"de","m":"Top","x":0.75,"y":0.829,"e":0.05},{"d":"de","m":"Top","x":0.8,"y":0.753,"e":0.05},{"d":"de","m":"Top","x":0.85,"y":0.668,"e":0.06},{"d":"de","m":"Top","x":0.9,"y":0.42,"e":0.07},{"d":"de","m":"Top","x":0.95,"y":0.145,"e":0.07},
{"d":"de","m":"Top–bottom","x":0,"y":0.943,"e":0.05},{"d":"de","m":"Top–bottom","x":0.05,"y":0.94,"e":0.05},{"d":"de","m":"Top–bottom","x":0.1,"y":0.935,"e":0.05},{"d":"de","m":"Top–bottom","x":0.15,"y":0.93,"e":0.05},{"d":"de","m":"Top–bottom","x":0.2,"y":0.924,"e":0.05},{"d":"de","m":"Top–bottom","x":0.25,"y":0.92,"e":0.05},{"d":"de","m":"Top–bottom","x":0.3,"y":0.915,"e":0.05},{"d":"de","m":"Top–bottom","x":0.35,"y":0.9,"e":0.05},{"d":"de","m":"Top–bottom","x":0.4,"y":0.886,"e":0.05},{"d":"de","m":"Top–bottom","x":0.45,"y":0.857,"e":0.05},{"d":"de","m":"Top–bottom","x":0.5,"y":0.838,"e":0.05},{"d":"de","m":"Top–bottom","x":0.55,"y":0.816,"e":0.05},{"d":"de","m":"Top–bottom","x":0.6,"y":0.8,"e":0.05},{"d":"de","m":"Top–bottom","x":0.65,"y":0.772,"e":0.05},{"d":"de","m":"Top–bottom","x":0.7,"y":0.744,"e":0.05},{"d":"de","m":"Top–bottom","x":0.75,"y":0.715,"e":0.05},{"d":"de","m":"Top–bottom","x":0.8,"y":0.687,"e":0.05},{"d":"de","m":"Top–bottom","x":0.85,"y":0.649,"e":0.05},{"d":"de","m":"Top–bottom","x":0.9,"y":0.61,"e":0.05},{"d":"de","m":"Top–bottom","x":0.95,"y":0.573,"e":0.05},

{"d":"zh","m":"Infor","x":0,"y":0.97,"e":0.01},{"d":"zh","m":"Infor","x":0.05,"y":0.968,"e":0.01},{"d":"zh","m":"Infor","x":0.1,"y":0.967,"e":0.01},{"d":"zh","m":"Infor","x":0.15,"y":0.966,"e":0.01},{"d":"zh","m":"Infor","x":0.2,"y":0.965,"e":0.01},{"d":"zh","m":"Infor","x":0.25,"y":0.964,"e":0.01},{"d":"zh","m":"Infor","x":0.3,"y":0.963,"e":0.01},{"d":"zh","m":"Infor","x":0.35,"y":0.963,"e":0.01},{"d":"zh","m":"Infor","x":0.4,"y":0.962,"e":0.01},{"d":"zh","m":"Infor","x":0.45,"y":0.962,"e":0.01},{"d":"zh","m":"Infor","x":0.5,"y":0.962,"e":0.01},{"d":"zh","m":"Infor","x":0.55,"y":0.96,"e":0.01},{"d":"zh","m":"Infor","x":0.6,"y":0.956,"e":0.01},{"d":"zh","m":"Infor","x":0.65,"y":0.95,"e":0.01},{"d":"zh","m":"Infor","x":0.7,"y":0.943,"e":0.012},{"d":"zh","m":"Infor","x":0.75,"y":0.93,"e":0.012},{"d":"zh","m":"Infor","x":0.8,"y":0.915,"e":0.015},{"d":"zh","m":"Infor","x":0.85,"y":0.886,"e":0.02},{"d":"zh","m":"Infor","x":0.9,"y":0.857,"e":0.025},{"d":"zh","m":"Infor","x":0.95,"y":0.78,"e":0.035},
{"d":"zh","m":"TFIDF","x":0,"y":0.97,"e":0.01},{"d":"zh","m":"TFIDF","x":0.05,"y":0.972,"e":0.01},{"d":"zh","m":"TFIDF","x":0.1,"y":0.975,"e":0.01},{"d":"zh","m":"TFIDF","x":0.15,"y":0.977,"e":0.01},{"d":"zh","m":"TFIDF","x":0.2,"y":0.979,"e":0.01},{"d":"zh","m":"TFIDF","x":0.25,"y":0.98,"e":0.01},{"d":"zh","m":"TFIDF","x":0.3,"y":0.981,"e":0.01},{"d":"zh","m":"TFIDF","x":0.35,"y":0.981,"e":0.01},{"d":"zh","m":"TFIDF","x":0.4,"y":0.98,"e":0.01},{"d":"zh","m":"TFIDF","x":0.45,"y":0.98,"e":0.01},{"d":"zh","m":"TFIDF","x":0.5,"y":0.979,"e":0.01},{"d":"zh","m":"TFIDF","x":0.55,"y":0.978,"e":0.01},{"d":"zh","m":"TFIDF","x":0.6,"y":0.977,"e":0.01},{"d":"zh","m":"TFIDF","x":0.65,"y":0.972,"e":0.01},{"d":"zh","m":"TFIDF","x":0.7,"y":0.953,"e":0.01},{"d":"zh","m":"TFIDF","x":0.75,"y":0.933,"e":0.01},{"d":"zh","m":"TFIDF","x":0.8,"y":0.924,"e":0.012},{"d":"zh","m":"TFIDF","x":0.85,"y":0.905,"e":0.012},{"d":"zh","m":"TFIDF","x":0.9,"y":0.848,"e":0.015},{"d":"zh","m":"TFIDF","x":0.95,"y":0.706,"e":0.02},
{"d":"zh","m":"Manual","x":0,"y":0.975,"e":0.01},{"d":"zh","m":"Manual","x":0.025,"y":0.977,"e":0.01},{"d":"zh","m":"Manual","x":0.05,"y":0.975,"e":0.01},{"d":"zh","m":"Manual","x":0.075,"y":0.977,"e":0.01},{"d":"zh","m":"Manual","x":0.1,"y":0.975,"e":0.01},{"d":"zh","m":"Manual","x":0.125,"y":0.977,"e":0.01},{"d":"zh","m":"Manual","x":0.15,"y":0.975,"e":0.01},{"d":"zh","m":"Manual","x":0.175,"y":0.977,"e":0.01},{"d":"zh","m":"Manual","x":0.2,"y":0.975,"e":0.01},{"d":"zh","m":"Manual","x":0.225,"y":0.977,"e":0.01},{"d":"zh","m":"Manual","x":0.25,"y":0.975,"e":0.01},{"d":"zh","m":"Manual","x":0.275,"y":0.976,"e":0.01},
{"d":"zh","m":"Bottom","x":0,"y":0.97,"e":0.012},{"d":"zh","m":"Bottom","x":0.05,"y":0.966,"e":0.012},{"d":"zh","m":"Bottom","x":0.1,"y":0.962,"e":0.012},{"d":"zh","m":"Bottom","x":0.15,"y":0.955,"e":0.012},{"d":"zh","m":"Bottom","x":0.2,"y":0.943,"e":0.015},{"d":"zh","m":"Bottom","x":0.25,"y":0.924,"e":0.015},{"d":"zh","m":"Bottom","x":0.3,"y":0.895,"e":0.015},{"d":"zh","m":"Bottom","x":0.35,"y":0.857,"e":0.015},{"d":"zh","m":"Bottom","x":0.4,"y":0.848,"e":0.015},{"d":"zh","m":"Bottom","x":0.45,"y":0.838,"e":0.015},{"d":"zh","m":"Bottom","x":0.5,"y":0.835,"e":0.015},{"d":"zh","m":"Bottom","x":0.55,"y":0.829,"e":0.015},{"d":"zh","m":"Bottom","x":0.6,"y":0.79,"e":0.02},{"d":"zh","m":"Bottom","x":0.65,"y":0.753,"e":0.025},{"d":"zh","m":"Bottom","x":0.7,"y":0.668,"e":0.025},{"d":"zh","m":"Bottom","x":0.75,"y":0.554,"e":0.025},{"d":"zh","m":"Bottom","x":0.8,"y":0.42,"e":0.025},{"d":"zh","m":"Bottom","x":0.85,"y":0.288,"e":0.025},{"d":"zh","m":"Bottom","x":0.9,"y":0.22,"e":0.025},{"d":"zh","m":"Bottom","x":0.95,"y":0.164,"e":0.025},
{"d":"zh","m":"Top","x":0,"y":0.97,"e":0.015},{"d":"zh","m":"Top","x":0.05,"y":0.968,"e":0.015},{"d":"zh","m":"Top","x":0.1,"y":0.966,"e":0.015},{"d":"zh","m":"Top","x":0.15,"y":0.963,"e":0.015},{"d":"zh","m":"Top","x":0.2,"y":0.96,"e":0.015},{"d":"zh","m":"Top","x":0.25,"y":0.958,"e":0.015},{"d":"zh","m":"Top","x":0.3,"y":0.956,"e":0.015},{"d":"zh","m":"Top","x":0.35,"y":0.955,"e":0.015},{"d":"zh","m":"Top","x":0.4,"y":0.953,"e":0.015},{"d":"zh","m":"Top","x":0.45,"y":0.95,"e":0.015},{"d":"zh","m":"Top","x":0.5,"y":0.948,"e":0.015},{"d":"zh","m":"Top","x":0.55,"y":0.945,"e":0.015},{"d":"zh","m":"Top","x":0.6,"y":0.943,"e":0.015},{"d":"zh","m":"Top","x":0.65,"y":0.935,"e":0.015},{"d":"zh","m":"Top","x":0.7,"y":0.924,"e":0.02},{"d":"zh","m":"Top","x":0.75,"y":0.9,"e":0.02},{"d":"zh","m":"Top","x":0.8,"y":0.876,"e":0.025},{"d":"zh","m":"Top","x":0.85,"y":0.78,"e":0.03},{"d":"zh","m":"Top","x":0.9,"y":0.59,"e":0.04},{"d":"zh","m":"Top","x":0.95,"y":0.345,"e":0.04},
{"d":"zh","m":"Top–bottom","x":0,"y":0.97,"e":0.02},{"d":"zh","m":"Top–bottom","x":0.05,"y":0.968,"e":0.02},{"d":"zh","m":"Top–bottom","x":0.1,"y":0.965,"e":0.02},{"d":"zh","m":"Top–bottom","x":0.15,"y":0.962,"e":0.02},{"d":"zh","m":"Top–bottom","x":0.2,"y":0.96,"e":0.02},{"d":"zh","m":"Top–bottom","x":0.25,"y":0.953,"e":0.02},{"d":"zh","m":"Top–bottom","x":0.3,"y":0.943,"e":0.02},{"d":"zh","m":"Top–bottom","x":0.35,"y":0.935,"e":0.02},{"d":"zh","m":"Top–bottom","x":0.4,"y":0.924,"e":0.02},{"d":"zh","m":"Top–bottom","x":0.45,"y":0.92,"e":0.02},{"d":"zh","m":"Top–bottom","x":0.5,"y":0.915,"e":0.02},{"d":"zh","m":"Top–bottom","x":0.55,"y":0.905,"e":0.02},{"d":"zh","m":"Top–bottom","x":0.6,"y":0.895,"e":0.02},{"d":"zh","m":"Top–bottom","x":0.65,"y":0.876,"e":0.02},{"d":"zh","m":"Top–bottom","x":0.7,"y":0.861,"e":0.02},{"d":"zh","m":"Top–bottom","x":0.75,"y":0.855,"e":0.02},{"d":"zh","m":"Top–bottom","x":0.8,"y":0.823,"e":0.02},{"d":"zh","m":"Top–bottom","x":0.85,"y":0.81,"e":0.02},{"d":"zh","m":"Top–bottom","x":0.9,"y":0.79,"e":0.02},{"d":"zh","m":"Top–bottom","x":0.95,"y":0.696,"e":0.025}
]},
"columns":3,
"spacing":{"row":70,"column":52},
"bounds":"flush",
"resolve":{"scale":{"color":"shared","strokeDash":"shared"}},
"concat":[
{"title":"20 newsgroups","width":257,"height":175,"layer":[
 {"data":{"name":"info"},"transform":[{"filter":"datum.d==='ng'"}],"mark":{"type":"rect","color":"#e3e3e3"},"encoding":{"x":{"datum":0.6,"type":"quantitative","scale":{"domain":[-0.05,1],"nice":false,"zero":false},"axis":{"values":[0,0.2,0.4,0.6,0.8,1],"labels":false,"title":null}},"x2":{"datum":0.95},"y":{"datum":0.1,"type":"quantitative","scale":{"domain":[0.1,1.1],"nice":false,"zero":false},"axis":{"values":[0.2,0.4,0.6,0.8,1],"format":".1f"}},"y2":{"datum":1.1}}},
 {"data":{"name":"pts"},"transform":[{"filter":"datum.d==='ng'"}],"mark":{"type":"line","strokeWidth":3,"clip":true},"encoding":{"x":{"field":"x","type":"quantitative"},"y":{"field":"y","type":"quantitative"},"color":{"field":"m","type":"nominal","title":null,"scale":{"domain":["Infor","TFIDF","Manual","Bottom","Top","Top–bottom"],"range":["#3a83c1","#34a153","#e5561b","#e8cb94","#efbc4f","#c3a13c"]}},"strokeDash":{"field":"m","type":"nominal","title":null,"scale":{"domain":["Infor","TFIDF","Manual","Bottom","Top","Top–bottom"],"range":[[1,0],[1,0],[1,0],[1,0],[10,5],[16,4,4,4]]}},"order":{"field":"x"}}},
 {"data":{"name":"pts"},"transform":[{"filter":"datum.d==='ng'"}],"mark":{"type":"errorbar","thickness":4,"clip":true},"encoding":{"x":{"field":"x","type":"quantitative","title":null},"y":{"field":"y","type":"quantitative","title":["Classification:","accuracy"]},"yError":{"field":"e"},"color":{"field":"m","type":"nominal","title":null}}},
 {"data":{"name":"info"},"transform":[{"filter":"datum.d==='ng'"}],"mark":{"type":"text","align":"left","baseline":"middle","fontSize":17},"encoding":{"x":{"datum":0.025,"type":"quantitative"},"y":{"datum":1.07,"type":"quantitative"},"text":{"field":"label"}}}
]},
{"title":"Reuters","width":257,"height":175,"layer":[
 {"data":{"name":"info"},"transform":[{"filter":"datum.d==='re'"}],"mark":{"type":"rect","color":"#e3e3e3"},"encoding":{"x":{"datum":0.6,"type":"quantitative","scale":{"domain":[-0.05,1],"nice":false,"zero":false},"axis":{"values":[0,0.2,0.4,0.6,0.8,1],"labels":false,"title":null}},"x2":{"datum":0.95},"y":{"datum":0.1,"type":"quantitative","scale":{"domain":[0.1,1.1],"nice":false,"zero":false},"axis":{"values":[0.2,0.4,0.6,0.8,1],"labels":false,"title":null}},"y2":{"datum":1.1}}},
 {"data":{"name":"pts"},"transform":[{"filter":"datum.d==='re'"}],"mark":{"type":"line","strokeWidth":3,"clip":true},"encoding":{"x":{"field":"x","type":"quantitative"},"y":{"field":"y","type":"quantitative"},"color":{"field":"m","type":"nominal","title":null,"scale":{"domain":["Infor","TFIDF","Manual","Bottom","Top","Top–bottom"],"range":["#3a83c1","#34a153","#e5561b","#e8cb94","#efbc4f","#c3a13c"]}},"strokeDash":{"field":"m","type":"nominal","title":null,"scale":{"domain":["Infor","TFIDF","Manual","Bottom","Top","Top–bottom"],"range":[[1,0],[1,0],[1,0],[1,0],[10,5],[16,4,4,4]]}},"order":{"field":"x"}}},
 {"data":{"name":"pts"},"transform":[{"filter":"datum.d==='re'"}],"mark":{"type":"errorbar","thickness":4,"clip":true},"encoding":{"x":{"field":"x","type":"quantitative","title":null},"y":{"field":"y","type":"quantitative","title":null},"yError":{"field":"e"},"color":{"field":"m","type":"nominal","title":null}}},
 {"data":{"name":"info"},"transform":[{"filter":"datum.d==='re'"}],"mark":{"type":"text","align":"left","baseline":"middle","fontSize":17},"encoding":{"x":{"datum":0.025,"type":"quantitative"},"y":{"datum":1.07,"type":"quantitative"},"text":{"field":"label"}}}
]},
{"title":"Web of Science","width":257,"height":175,"layer":[
 {"data":{"name":"info"},"transform":[{"filter":"datum.d==='ws'"}],"mark":{"type":"rect","color":"#e3e3e3"},"encoding":{"x":{"datum":0.6,"type":"quantitative","scale":{"domain":[-0.05,1],"nice":false,"zero":false},"axis":{"values":[0,0.2,0.4,0.6,0.8,1],"labels":false,"title":null}},"x2":{"datum":0.95},"y":{"datum":0.1,"type":"quantitative","scale":{"domain":[0.1,1.1],"nice":false,"zero":false},"axis":{"values":[0.2,0.4,0.6,0.8,1],"labels":false,"title":null}},"y2":{"datum":1.1}}},
 {"data":{"name":"pts"},"transform":[{"filter":"datum.d==='ws'"}],"mark":{"type":"line","strokeWidth":3,"clip":true},"encoding":{"x":{"field":"x","type":"quantitative"},"y":{"field":"y","type":"quantitative"},"color":{"field":"m","type":"nominal","title":null,"scale":{"domain":["Infor","TFIDF","Manual","Bottom","Top","Top–bottom"],"range":["#3a83c1","#34a153","#e5561b","#e8cb94","#efbc4f","#c3a13c"]}},"strokeDash":{"field":"m","type":"nominal","title":null,"scale":{"domain":["Infor","TFIDF","Manual","Bottom","Top","Top–bottom"],"range":[[1,0],[1,0],[1,0],[1,0],[10,5],[16,4,4,4]]}},"order":{"field":"x"}}},
 {"data":{"name":"pts"},"transform":[{"filter":"datum.d==='ws'"}],"mark":{"type":"errorbar","thickness":4,"clip":true},"encoding":{"x":{"field":"x","type":"quantitative","title":null},"y":{"field":"y","type":"quantitative","title":null},"yError":{"field":"e"},"color":{"field":"m","type":"nominal","title":null}}},
 {"data":{"name":"info"},"transform":[{"filter":"datum.d==='ws'"}],"mark":{"type":"text","align":"left","baseline":"middle","fontSize":17},"encoding":{"x":{"datum":0.025,"type":"quantitative"},"y":{"datum":1.07,"type":"quantitative"},"text":{"field":"label"}}}
]},
{"title":"Portuguese","width":257,"height":175,"layer":[
 {"data":{"name":"info"},"transform":[{"filter":"datum.d==='pt'"}],"mark":{"type":"rect","color":"#e3e3e3"},"encoding":{"x":{"datum":0.6,"type":"quantitative","scale":{"domain":[-0.05,1],"nice":false,"zero":false},"axis":{"values":[0,0.2,0.4,0.6,0.8,1],"labelExpr":"datum.value === 0 ? '0' : format(datum.value, '.1f')","title":"Fraction of data removed (tokens)"}},"x2":{"datum":0.95},"y":{"datum":0.1,"type":"quantitative","scale":{"domain":[0.1,1.1],"nice":false,"zero":false},"axis":{"values":[0.2,0.4,0.6,0.8,1],"format":".1f"}},"y2":{"datum":1.1}}},
 {"data":{"name":"pts"},"transform":[{"filter":"datum.d==='pt'"}],"mark":{"type":"line","strokeWidth":3,"clip":true},"encoding":{"x":{"field":"x","type":"quantitative"},"y":{"field":"y","type":"quantitative"},"color":{"field":"m","type":"nominal","title":null,"scale":{"domain":["Infor","TFIDF","Manual","Bottom","Top","Top–bottom"],"range":["#3a83c1","#34a153","#e5561b","#e8cb94","#efbc4f","#c3a13c"]}},"strokeDash":{"field":"m","type":"nominal","title":null,"scale":{"domain":["Infor","TFIDF","Manual","Bottom","Top","Top–bottom"],"range":[[1,0],[1,0],[1,0],[1,0],[10,5],[16,4,4,4]]}},"order":{"field":"x"}}},
 {"data":{"name":"pts"},"transform":[{"filter":"datum.d==='pt'"}],"mark":{"type":"errorbar","thickness":4,"clip":true},"encoding":{"x":{"field":"x","type":"quantitative","title":"Fraction of data removed (tokens)"},"y":{"field":"y","type":"quantitative","title":["Classification:","accuracy"]},"yError":{"field":"e"},"color":{"field":"m","type":"nominal","title":null}}},
 {"data":{"name":"info"},"transform":[{"filter":"datum.d==='pt'"}],"mark":{"type":"text","align":"left","baseline":"middle","fontSize":17},"encoding":{"x":{"datum":0.025,"type":"quantitative"},"y":{"datum":1.07,"type":"quantitative"},"text":{"field":"label"}}}
]},
{"title":"German","width":257,"height":175,"layer":[
 {"data":{"name":"info"},"transform":[{"filter":"datum.d==='de'"}],"mark":{"type":"rect","color":"#e3e3e3"},"encoding":{"x":{"datum":0.6,"type":"quantitative","scale":{"domain":[-0.05,1],"nice":false,"zero":false},"axis":{"values":[0,0.2,0.4,0.6,0.8,1],"labelExpr":"datum.value === 0 ? '0' : format(datum.value, '.1f')","title":"Fraction of data removed (tokens)"}},"x2":{"datum":0.95},"y":{"datum":0.1,"type":"quantitative","scale":{"domain":[0.1,1.1],"nice":false,"zero":false},"axis":{"values":[0.2,0.4,0.6,0.8,1],"labels":false,"title":null}},"y2":{"datum":1.1}}},
 {"data":{"name":"pts"},"transform":[{"filter":"datum.d==='de'"}],"mark":{"type":"line","strokeWidth":3,"clip":true},"encoding":{"x":{"field":"x","type":"quantitative"},"y":{"field":"y","type":"quantitative"},"color":{"field":"m","type":"nominal","title":null,"scale":{"domain":["Infor","TFIDF","Manual","Bottom","Top","Top–bottom"],"range":["#3a83c1","#34a153","#e5561b","#e8cb94","#efbc4f","#c3a13c"]}},"strokeDash":{"field":"m","type":"nominal","title":null,"scale":{"domain":["Infor","TFIDF","Manual","Bottom","Top","Top–bottom"],"range":[[1,0],[1,0],[1,0],[1,0],[10,5],[16,4,4,4]]}},"order":{"field":"x"}}},
 {"data":{"name":"pts"},"transform":[{"filter":"datum.d==='de'"}],"mark":{"type":"errorbar","thickness":4,"clip":true},"encoding":{"x":{"field":"x","type":"quantitative","title":"Fraction of data removed (tokens)"},"y":{"field":"y","type":"quantitative","title":null},"yError":{"field":"e"},"color":{"field":"m","type":"nominal","title":null}}},
 {"data":{"name":"info"},"transform":[{"filter":"datum.d==='de'"}],"mark":{"type":"text","align":"left","baseline":"middle","fontSize":17},"encoding":{"x":{"datum":0.025,"type":"quantitative"},"y":{"datum":1.07,"type":"quantitative"},"text":{"field":"label"}}}
]},
{"title":"Chinese","width":257,"height":175,"layer":[
 {"data":{"name":"info"},"transform":[{"filter":"datum.d==='zh'"}],"mark":{"type":"rect","color":"#e3e3e3"},"encoding":{"x":{"datum":0.6,"type":"quantitative","scale":{"domain":[-0.05,1],"nice":false,"zero":false},"axis":{"values":[0,0.2,0.4,0.6,0.8,1],"labelExpr":"datum.value === 0 ? '0' : format(datum.value, '.1f')","title":"Fraction of data removed (tokens)"}},"x2":{"datum":0.95},"y":{"datum":0.1,"type":"quantitative","scale":{"domain":[0.1,1.1],"nice":false,"zero":false},"axis":{"values":[0.2,0.4,0.6,0.8,1],"labels":false,"title":null}},"y2":{"datum":1.1}}},
 {"data":{"name":"pts"},"transform":[{"filter":"datum.d==='zh'"}],"mark":{"type":"line","strokeWidth":3,"clip":true},"encoding":{"x":{"field":"x","type":"quantitative"},"y":{"field":"y","type":"quantitative"},"color":{"field":"m","type":"nominal","title":null,"scale":{"domain":["Infor","TFIDF","Manual","Bottom","Top","Top–bottom"],"range":["#3a83c1","#34a153","#e5561b","#e8cb94","#efbc4f","#c3a13c"]}},"strokeDash":{"field":"m","type":"nominal","title":null,"scale":{"domain":["Infor","TFIDF","Manual","Bottom","Top","Top–bottom"],"range":[[1,0],[1,0],[1,0],[1,0],[10,5],[16,4,4,4]]}},"order":{"field":"x"}}},
 {"data":{"name":"pts"},"transform":[{"filter":"datum.d==='zh'"}],"mark":{"type":"errorbar","thickness":4,"clip":true},"encoding":{"x":{"field":"x","type":"quantitative","title":"Fraction of data removed (tokens)"},"y":{"field":"y","type":"quantitative","title":null},"yError":{"field":"e"},"color":{"field":"m","type":"nominal","title":null}}},
 {"data":{"name":"info"},"transform":[{"filter":"datum.d==='zh'"}],"mark":{"type":"text","align":"left","baseline":"middle","fontSize":17},"encoding":{"x":{"datum":0.025,"type":"quantitative"},"y":{"datum":1.07,"type":"quantitative"},"text":{"field":"label"}}}
]}
],
"config":{
 "font":"Liberation Sans",
 "view":{"stroke":null},
 "axis":{"grid":false,"domainColor":"black","tickColor":"black","labelColor":"black","titleColor":"black","labelFontSize":16,"titleFontSize":16,"titleFontWeight":"normal","tickSize":6,"labelPadding":4,"titlePadding":12,"titleLineHeight":22},
 "title":{"fontSize":17,"fontWeight":"normal","color":"black","offset":8},
 "text":{"color":"black"},
 "legend":{"orient":"none","legendX":32,"legendY":-91,"direction":"horizontal","symbolType":"stroke","symbolSize":2025,"symbolStrokeWidth":4,"labelFontSize":17,"labelColor":"black","labelOffset":7,"columnPadding":18}
}
}
